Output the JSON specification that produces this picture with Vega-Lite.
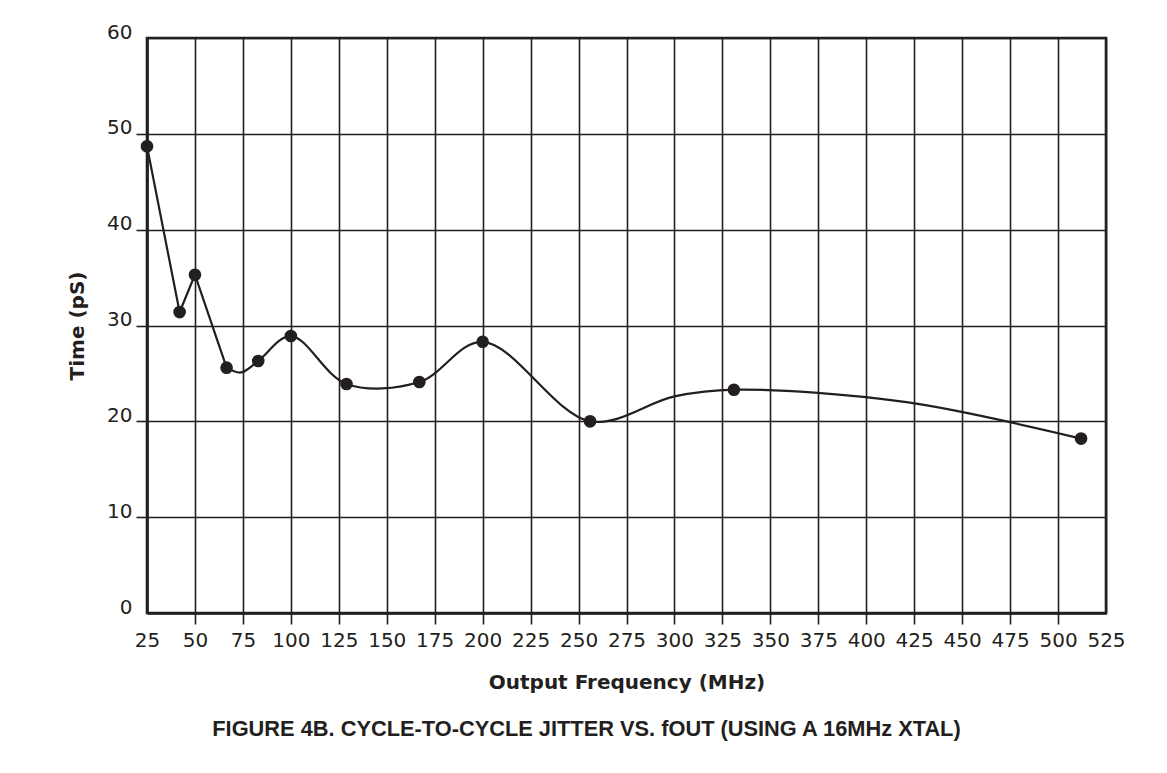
{
  "$schema": "https://vega.github.io/schema/vega-lite/v6.json",
  "width": 959,
  "height": 575,
  "autosize": "none",
  "padding": {"left": 147, "top": 38, "right": 61, "bottom": 160},
  "background": "white",
  "title": {
    "text": "FIGURE 4B.  CYCLE-TO-CYCLE JITTER VS. fOUT (USING A 16MHz XTAL)",
    "orient": "bottom",
    "anchor": "middle",
    "font": "Liberation Sans",
    "fontSize": 21.8,
    "fontWeight": "bold",
    "color": "#231f20",
    "offset": 27,
    "dx": -40
  },
  "data": {
    "values": [
      {"f": 25, "t": 48.7, "marker": true, "part": "a"},
      {"f": 42, "t": 31.4, "marker": true, "part": "a"},
      {"f": 50, "t": 35.3, "marker": true, "part": "a"},
      {"f": 66.5, "t": 25.6, "marker": true, "part": "ab"},
      {"f": 74, "t": 25.1, "marker": false, "part": "b"},
      {"f": 83, "t": 26.3, "marker": true, "part": "b"},
      {"f": 100, "t": 28.9, "marker": true, "part": "b"},
      {"f": 129, "t": 23.9, "marker": true, "part": "b"},
      {"f": 167, "t": 24.1, "marker": true, "part": "b"},
      {"f": 200, "t": 28.3, "marker": true, "part": "b"},
      {"f": 256, "t": 20.0, "marker": true, "part": "b"},
      {"f": 300, "t": 22.6, "marker": false, "part": "b"},
      {"f": 331, "t": 23.3, "marker": true, "part": "b"},
      {"f": 421, "t": 22.0, "marker": false, "part": "b"},
      {"f": 512, "t": 18.2, "marker": true, "part": "b"}
    ]
  },
  "encoding": {
    "x": {
      "field": "f",
      "type": "quantitative",
      "scale": {"domain": [25, 525], "nice": false, "zero": false},
      "axis": {
        "title": "Output Frequency (MHz)",
        "values": [25, 50, 75, 100, 125, 150, 175, 200, 225, 250, 275, 300, 325, 350, 375, 400, 425, 450, 475, 500, 525],
        "grid": true,
        "labelFlush": false,
        "labelOverlap": false,
        "labelPadding": 6,
        "tickOpacity": {"condition": {"test": "datum.value === 25 || datum.value === 525", "value": 0}, "value": 1},
        "titlePadding": 22
      }
    },
    "y": {
      "field": "t",
      "type": "quantitative",
      "scale": {"domain": [0, 60], "nice": false, "zero": true},
      "axis": {
        "title": "Time (pS)",
        "values": [0, 10, 20, 30, 40, 50, 60],
        "grid": true,
        "labelFlush": false,
        "labelOverlap": false,
        "labelBaseline": "alphabetic",
        "labelPadding": 4,
        "tickOpacity": {"condition": {"test": "datum.value === 0 || datum.value === 60", "value": 0}, "value": 1},
        "titlePadding": 19
      }
    }
  },
  "layer": [
    {
      "transform": [{"filter": "indexof(datum.part, 'a') >= 0"}],
      "mark": {"type": "line", "interpolate": "linear", "color": "#231f20", "strokeWidth": 2.2, "clip": true}
    },
    {
      "transform": [{"filter": "indexof(datum.part, 'b') >= 0"}],
      "mark": {"type": "line", "interpolate": "catmull-rom", "color": "#231f20", "strokeWidth": 2.2, "clip": true}
    },
    {
      "transform": [{"filter": "datum.marker"}],
      "mark": {"type": "circle", "size": 160, "opacity": 1, "color": "#231f20"}
    }
  ],
  "config": {
    "view": {"stroke": "#231f20", "strokeWidth": 2.6},
    "axis": {
      "domainColor": "#231f20",
      "domainWidth": 2.6,
      "gridColor": "#231f20",
      "gridOpacity": 1,
      "gridWidth": 1.6,
      "tickColor": "#231f20",
      "tickWidth": 1.6,
      "tickSize": 11,
      "labelFont": "DejaVu Sans",
      "labelFontSize": 20,
      "labelColor": "#231f20",
      "titleFont": "DejaVu Sans",
      "titleFontSize": 20,
      "titleFontWeight": "bold",
      "titleColor": "#231f20"
    }
  }
}
